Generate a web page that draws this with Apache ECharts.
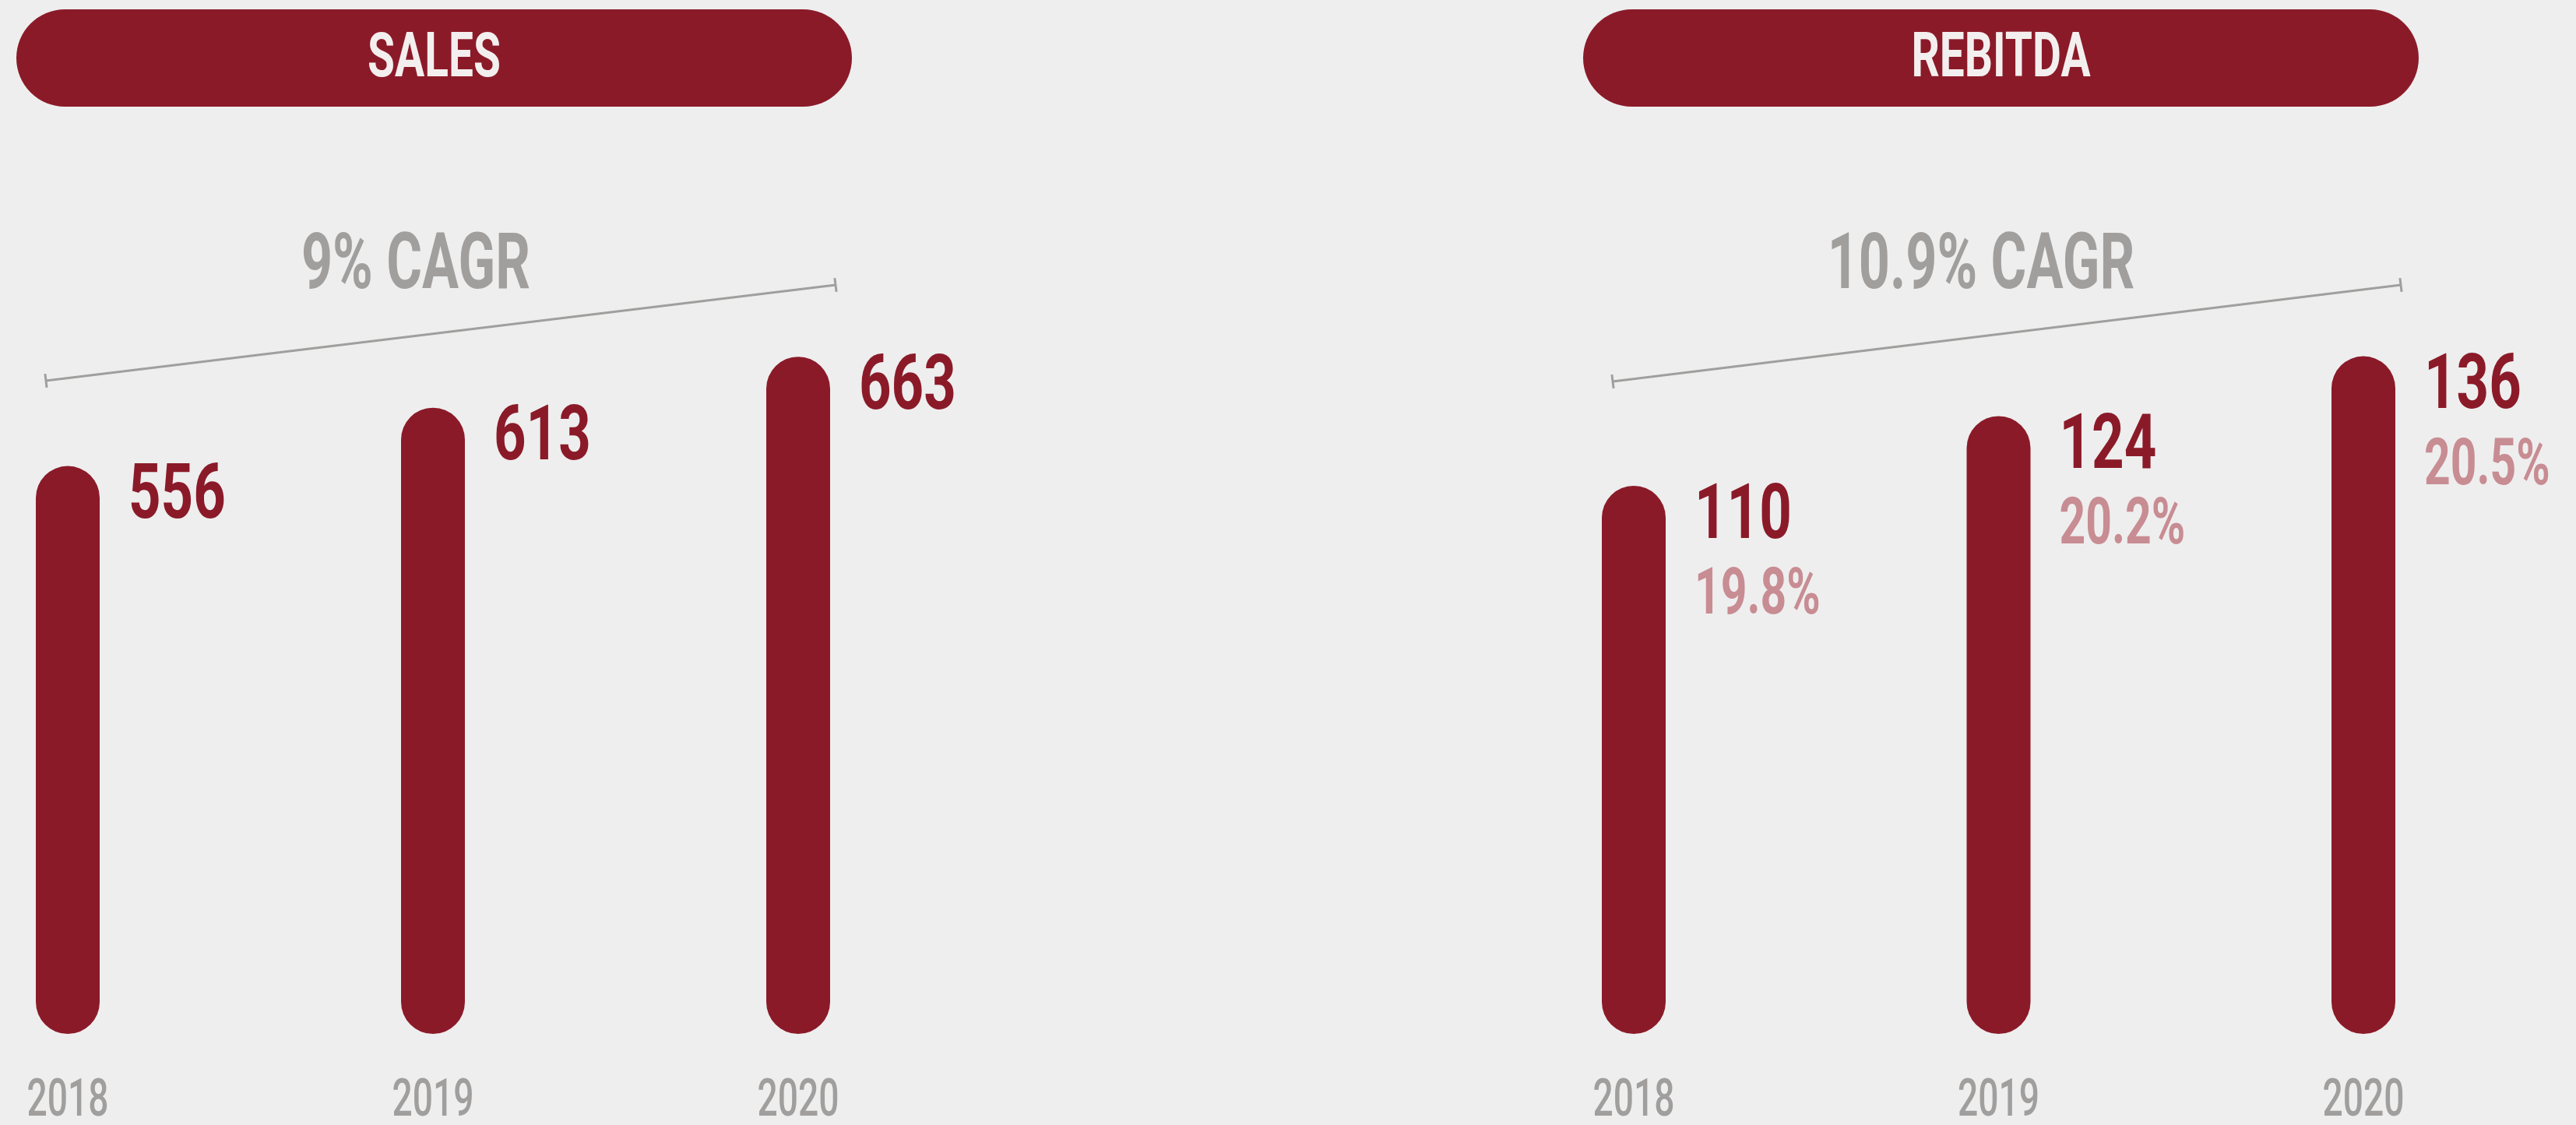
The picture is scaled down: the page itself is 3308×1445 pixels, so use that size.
<!DOCTYPE html>
<html>
<head>
<meta charset="utf-8">
<title>Sales and REBITDA 2018–2020</title>
<script src="https://cdn.jsdelivr.net/npm/echarts@6/dist/echarts.min.js"></script>
<style>
  html, body { margin: 0; padding: 0; background: #EEEEEE; }
  #chart { width: 3308px; height: 1445px; }
</style>
</head>
<body>
<div id="chart"></div>
<script>
// ---- data ----
const years = ['2018', '2019', '2020'];
const salesValues = [556, 613, 663];
const rebitdaValues = [110, 124, 136];
const rebitdaMargins = [19.8, 20.2, 20.5];
const panelTitles = ['SALES', 'REBITDA'];
const cagrLabels = ['9% CAGR', '10.9% CAGR'];

// ---- style ----
const RED = '#8B1A29';
const GREY = '#A09F9E';
const PINK = '#C88C93';
const TITLE_INK = '#F4EFEF';
const FONT = 'Roboto';

// condensed text: a normal face squeezed horizontally
function squeezed(x, y, text, size, weight, fill, align, sx) {
  return {
    type: 'text',
    x: x, y: y,
    scaleX: sx, scaleY: 1,
    style: {
      text: text,
      font: weight + ' ' + size + 'px ' + FONT,
      fill: fill,
      align: align, textAlign: align,
      verticalAlign: 'middle', textVerticalAlign: 'middle'
    }
  };
}

// value label, optional margin label and year label for each bar
function labelRenderer(margins) {
  return function (params, api) {
    const i = api.value(0);
    const v = api.value(1);
    const top = api.coord([i, v]);
    const base = api.coord([i, 0]);
    const children = [
      squeezed(top[0] + 78, top[1] + 42, String(v), 98, 'bold', RED, 'left', 0.74),
      squeezed(base[0], base[1] + 88, years[i], 66, '500', GREY, 'center', 0.70)
    ];
    if (margins) {
      children.push(squeezed(top[0] + 78, top[1] + 143, margins[i].toFixed(1) + '%', 84, 'bold', PINK, 'left', 0.70));
    }
    return { type: 'group', children: children };
  };
}

// growth bracket: a thin line with perpendicular end ticks
function bracket(x1, y1, x2, y2) {
  const dx = x2 - x1, dy = y2 - y1, len = Math.hypot(dx, dy);
  const nx = -dy / len * 9, ny = dx / len * 9;
  const lineStyle = { stroke: GREY, lineWidth: 3 };
  return [
    { type: 'line', shape: { x1: x1, y1: y1, x2: x2, y2: y2 }, style: lineStyle },
    { type: 'line', shape: { x1: x1 - nx, y1: y1 - ny, x2: x1 + nx, y2: y1 + ny }, style: lineStyle },
    { type: 'line', shape: { x1: x2 - nx, y1: y2 - ny, x2: x2 + nx, y2: y2 + ny }, style: lineStyle }
  ];
}

function pill(x, y, w, h, title) {
  return [
    { type: 'rect', shape: { x: x, y: y, width: w, height: h, r: h / 2 }, style: { fill: RED } },
    squeezed(x + w / 2, y + h / 2 + 3, title, 80, 'bold', TITLE_INK, 'center', 0.71)
  ];
}

const hiddenX = (gridIndex) => ({
  type: 'category', gridIndex: gridIndex, data: years, boundaryGap: false,
  axisLine: { show: false }, axisTick: { show: false }, axisLabel: { show: false }, splitLine: { show: false }
});
const hiddenY = (gridIndex, max) => ({
  type: 'value', gridIndex: gridIndex, min: 0, max: max,
  axisLine: { show: false }, axisTick: { show: false }, axisLabel: { show: false }, splitLine: { show: false }
});

const barStyle = { color: RED, borderRadius: 41 };

const chart = echarts.init(document.getElementById('chart'), null, { renderer: 'canvas' });
chart.setOption({
  backgroundColor: '#EEEEEE',
  animation: false,
  grid: [
    { left: 87, width: 938, top: 409.6, height: 918.4 },
    { left: 2098, width: 937, top: 432, height: 896 }
  ],
  xAxis: [hiddenX(0), hiddenX(1)],
  yAxis: [hiddenY(0, 700), hiddenY(1, 140)],
  series: [
    { type: 'bar', xAxisIndex: 0, yAxisIndex: 0, data: salesValues, barWidth: 82, itemStyle: barStyle, silent: true },
    { type: 'bar', xAxisIndex: 1, yAxisIndex: 1, data: rebitdaValues, barWidth: 82, itemStyle: barStyle, silent: true },
    {
      type: 'custom', xAxisIndex: 0, yAxisIndex: 0, silent: true,
      data: salesValues.map((v, i) => [i, v]), encode: { x: 0, y: 1 },
      renderItem: labelRenderer(null), z: 5
    },
    {
      type: 'custom', xAxisIndex: 1, yAxisIndex: 1, silent: true,
      data: rebitdaValues.map((v, i) => [i, v]), encode: { x: 0, y: 1 },
      renderItem: labelRenderer(rebitdaMargins), z: 5
    }
  ],
  graphic: [
    ...pill(21, 12, 1073, 125, panelTitles[0]),
    ...pill(2033, 12, 1073, 125, panelTitles[1]),
    squeezed(534, 345, cagrLabels[0], 100, 'bold', GREY, 'center', 0.70),
    squeezed(2544, 345, cagrLabels[1], 100, 'bold', GREY, 'center', 0.70),
    ...bracket(59, 489, 1073, 366),
    ...bracket(2071, 490, 3083, 366)
  ]
});
</script>
</body>
</html>
